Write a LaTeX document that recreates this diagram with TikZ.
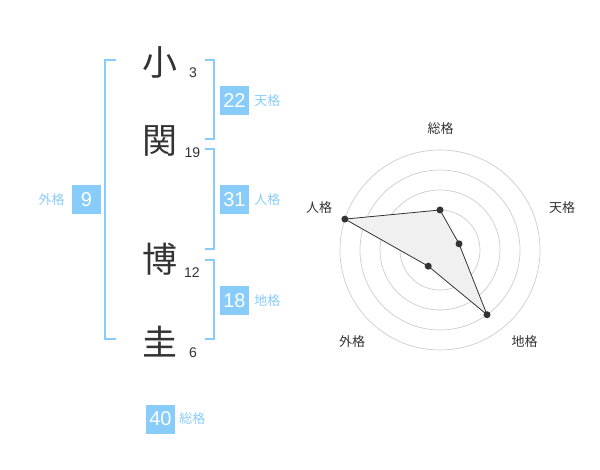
\documentclass[tikz,border=0pt]{standalone}
\usepackage{fontspec}
\setmainfont{Liberation Sans}
\newfontfamily\jp{Noto Sans CJK JP}
\usetikzlibrary{positioning}
\definecolor{kaku}{HTML}{88CCFA}
\definecolor{ink}{HTML}{333333}

\begin{document}
\begin{tikzpicture}[x=1pt, y=-1pt,
  brk/.style={kaku, line width=2pt},
  kbox/.style={fill=kaku, text=white, minimum size=29pt, inner sep=0pt,
               font=\fontsize{20}{20}\selectfont},
  klbl/.style={text=kaku, inner sep=0pt, font=\jp\fontsize{13}{13}\selectfont},
  kanji/.style={text=ink, inner sep=0pt, font=\jp\fontsize{35}{35}\selectfont},
  strk/.style={text=ink, inner sep=0pt, font=\fontsize{14}{14}\selectfont},
  axlbl/.style={text=ink, inner sep=0pt, font=\jp\fontsize{13}{13}\selectfont},
  ring/.style={gray!40, line width=0.7pt},
]
\useasboundingbox (0,0) rectangle (600,470);

%% Name characters and stroke counts
\node[kanji] (ko)   at (160,62.5) {小};
\node[kanji] (seki) at (160,140.5) {関};
\node[kanji] (hiro) at (160,259.5) {博};
\node[kanji] (kei)  at (160,342) {圭};
\node[strk] (kon)   at (193,72.5) {3};
\node[strk] (sekin) at (192.5,152.5) {19};
\node[strk] (hiron) at (192,273) {12};
\node[strk] (kein)  at (193,353) {6};

%% Brackets
\draw[brk] (116,60) -- (105,60) -- (105,339) -- (116,339);
\draw[brk] (205,60) -- (214,60) -- (214,139) -- (205,139);
\draw[brk] (205,149) -- (214,149) -- (214,249) -- (205,249);
\draw[brk] (205,260) -- (214,260) -- (214,339) -- (205,339);

%% Kaku boxes
\node[kbox] (ten) at (234.5,100.5) {22};
\node[klbl, right=5pt of ten] {天格};
\node[kbox] (jin) at (234.5,200) {31};
\node[klbl, right=5pt of jin] {人格};
\node[kbox] (chi) at (234.5,300.5) {18};
\node[klbl, right=5pt of chi] {地格};
\node[kbox] (gai) at (86.5,200) {9};
\node[klbl, left=7pt of gai] {外格};
\node[kbox] (sou) at (160.5,419) {40};
\node[klbl, right=4pt of sou] {総格};

%% Radar chart
\begin{scope}[shift={(440,250)}, yscale=-1]
  \foreach \r in {20,40,...,100}
    \draw[ring] (0,0) circle (\r);
  \fill[gray!40] (0,0) circle (3.5);

  \coordinate (rs) at (90:40);
  \coordinate (rt) at (18:20);
  \coordinate (rc) at (-54:80);
  \coordinate (rg) at (234:20);
  \coordinate (rj) at (162:100);

  \draw[fill=gray!12, draw=ink, line width=0.8pt]
    (rs) -- (rt) -- (rc) -- (rg) -- (rj) -- cycle;
  \foreach \p in {rs,rt,rc,rg,rj}
    \fill[ink] (\p) circle (3.5);

  \node[axlbl] (lsou) at (0.5,121) {総格};
  \node[axlbl] (lten) at (122,42) {天格};
  \node[axlbl] (lchi) at (84.5,-92) {地格};
  \node[axlbl] (lgai) at (-88,-92) {外格};
  \node[axlbl] (ljin) at (-121,42) {人格};
\end{scope}

\end{tikzpicture}
\end{document}
